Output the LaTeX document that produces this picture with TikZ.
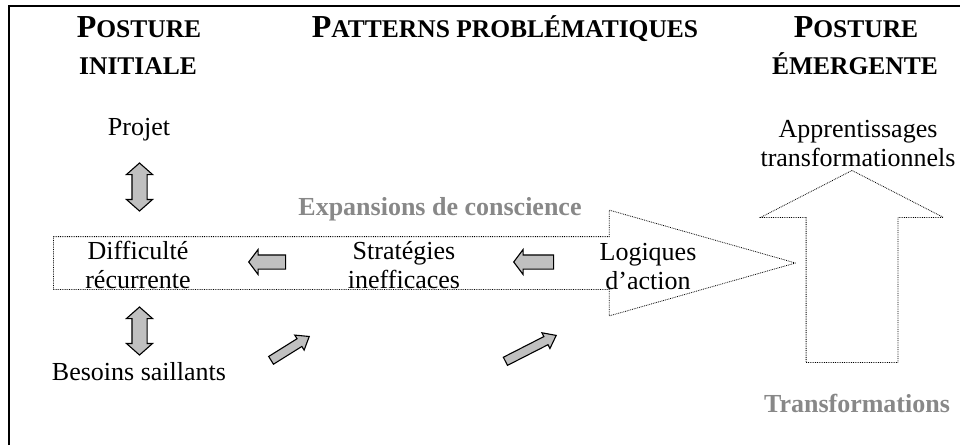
\documentclass[tikz,border=0pt]{standalone}
\usepackage{fontspec}
\setmainfont{Liberation Serif}
\usetikzlibrary{shapes.arrows}

\definecolor{greytext}{HTML}{888888}
\definecolor{arrowfill}{HTML}{C0C0C0}

% big initial letter, then small capitals
\newcommand{\scword}[2]{{\fontsize{32}{36}\selectfont #1}{\fontsize{25.5}{30}\selectfont #2}}

\begin{document}
\begin{tikzpicture}[x=1pt,y=-1pt,inner sep=0pt,
      every node/.style={font=\fontsize{26}{29}\selectfont},
      head node/.style={font=\bfseries,anchor=base},
      text node/.style={align=center,anchor=base},
      grey node/.style={font=\fontsize{26}{29}\selectfont\bfseries,text=greytext,anchor=base},
      grey arrow/.style={single arrow,draw,fill=arrowfill,line width=1.1pt,
        minimum width=0pt,inner xsep=0pt,single arrow head indent=0pt},
      grey double/.style={double arrow,draw,fill=arrowfill,line width=1.1pt,
        minimum width=0pt,inner xsep=0pt,double arrow head indent=0pt},
      big arrow/.style={single arrow,draw,densely dotted,line width=0.8pt,
        minimum width=0pt,inner xsep=0pt,single arrow head indent=0pt}]

      \useasboundingbox (0,0) rectangle (960,445);
      \draw[line width=2pt] (9,445) -- (9,6) -- (960,6);

      % dotted block arrows
      \node[big arrow,inner ysep=26pt,single arrow head extend=26.5pt,
        single arrow tip angle=31.7,minimum height=742pt,anchor=tip] (expand) at (797,263) {};
      \node[big arrow,rotate=90,inner ysep=45.5pt,single arrow head extend=45.5pt,
        single arrow tip angle=125.6,minimum height=192pt,anchor=tip] (transform) at (852,170) {};

      % column titles
      \node[head node] (postinit) at (139,37) {\scword{P}{OSTURE}};
      \node[head node] (initiale) at (138,74) {\fontsize{25.5}{30}\selectfont INITIALE};
      \node[head node] (patterns) at (505,37) {\scword{P}{ATTERNS PROBLÉMATIQUES}};
      \node[head node] (postemerg) at (856,37) {\scword{P}{OSTURE}};
      \node[head node] (emergente) at (855,74) {\fontsize{25.5}{30}\selectfont ÉMERGENTE};

      % texts (base = last line)
      \node[text node] (projet) at (139,135) {Projet};
      \node[text node] (difficulte) at (138,288) {Difficulté\\récurrente};
      \node[text node] (besoins) at (139,380) {Besoins saillants};
      \node[text node] (strategies) at (404,288) {Stratégies\\inefficaces};
      \node[text node] (logiques) at (648,289) {Logiques\\d’action};
      \node[text node] (apprent) at (858,166) {Apprentissages\\transformationnels};
      \node[grey node] (expansions) at (440,215) {Expansions de conscience};
      \node[grey node] (transfo) at (857,412) {Transformations};

      % grey block arrows
      \node[grey double,rotate=90,inner ysep=7pt,double arrow head extend=5.5pt,
        double arrow tip angle=97,minimum height=48pt] (projdiff) at (139.5,187) {};
      \node[grey double,rotate=90,inner ysep=7pt,double arrow head extend=5.5pt,
        double arrow tip angle=97,minimum height=48pt] (diffbes) at (139.5,331) {};
      \node[grey arrow,rotate=180,inner ysep=6.5pt,single arrow head extend=5.5pt,
        single arrow tip angle=106,minimum height=37pt,anchor=tip] (stratdiff) at (248,262) {};
      \node[grey arrow,rotate=180,inner ysep=6.5pt,single arrow head extend=5.5pt,
        single arrow tip angle=106,minimum height=40pt,anchor=tip] (logstrat) at (513,262) {};
      \node[grey arrow,rotate=32,inner ysep=4pt,single arrow head extend=4.3pt,
        single arrow tip angle=75,minimum height=45pt,anchor=tip] (besstrat) at (310,336) {};
      \node[grey arrow,rotate=27,inner ysep=4pt,single arrow head extend=4.3pt,
        single arrow tip angle=75,minimum height=57pt,anchor=tip] (straglog) at (557,335) {};
    \end{tikzpicture}
\end{document}
